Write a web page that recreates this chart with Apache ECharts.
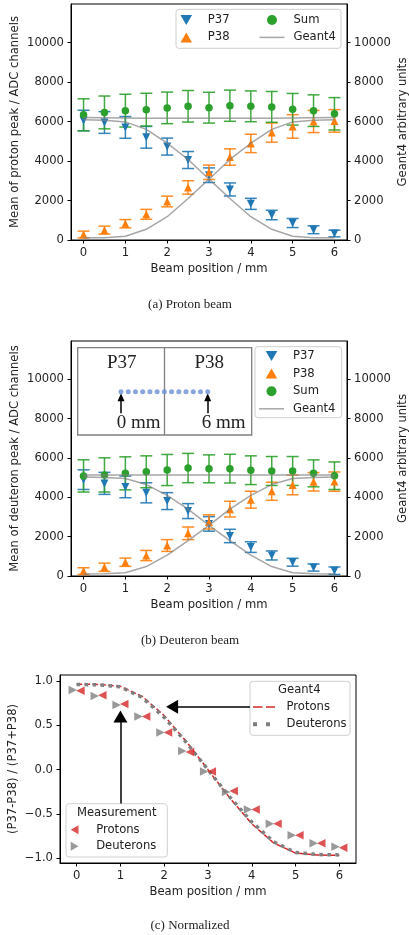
<!DOCTYPE html>
<html>
<head>
<meta charset="utf-8">
<script src="https://cdn.jsdelivr.net/npm/echarts@6/dist/echarts.min.js"></script>
<style>
  html, body { margin: 0; padding: 0; background: #fff; }
  #chart { width: 409px; height: 935px; }
</style>
</head>
<body>
<div id="chart"></div>
<script>
// Beam positions (mm) and axis ticks
const positions = [0, 0.5, 1, 1.5, 2, 2.5, 3, 3.5, 4, 4.5, 5, 5.5, 6];
const xTicks = [0, 1, 2, 3, 4, 5, 6];
const adcTicks = [0, 2000, 4000, 6000, 8000, 10000];
const normTicks = [-1, -0.5, 0, 0.5, 1];

// (a) Proton beam: mean peak (ADC channels) with uncertainties
const protonP37 = [6050, 5950, 5700, 5200, 4730, 4050, 3280, 2560, 1830, 1265, 860, 520, 330];
const protonP37Err = [520, 550, 550, 550, 430, 430, 370, 330, 280, 240, 230, 200, 170];
const protonP38 = [280, 500, 825, 1300, 1950, 2660, 3430, 4200, 4890, 5440, 5750, 6000, 6030];
const protonP38Err = [170, 200, 210, 250, 270, 340, 365, 415, 465, 485, 595, 560, 570];
const protonSum = [6340, 6460, 6550, 6600, 6690, 6770, 6700, 6800, 6770, 6740, 6620, 6550, 6390];
const protonSumErr = [810, 830, 830, 830, 800, 800, 780, 790, 780, 780, 800, 800, 820];
// Geant4 simulation, proton beam (arbitrary units)
const protonG4P37 = [6090, 6060, 5980, 5600, 4900, 4080, 3080, 2100, 1180, 540, 190, 120, 110];
const protonG4P38 = [110, 120, 190, 540, 1180, 2100, 3080, 4080, 4900, 5600, 5980, 6060, 6090];
const protonG4Sum = [6200, 6190, 6180, 6170, 6160, 6160, 6160, 6160, 6160, 6170, 6180, 6190, 6200];

// (b) Deuteron beam
const deuteronP37 = [4900, 4710, 4530, 4230, 3810, 3300, 2650, 2035, 1470, 1045, 700, 430, 270];
const deuteronP37Err = [500, 560, 550, 510, 430, 380, 370, 340, 270, 230, 200, 180, 190];
const deuteronP38 = [250, 444, 700, 1040, 1550, 2170, 2750, 3400, 3880, 4310, 4630, 4790, 4800];
const deuteronP38Err = [170, 210, 210, 260, 300, 320, 360, 400, 430, 460, 500, 470, 490];
const deuteronSum = [5090, 5140, 5220, 5300, 5390, 5490, 5450, 5460, 5380, 5340, 5340, 5220, 5100];
const deuteronSumErr = [820, 870, 840, 810, 790, 745, 710, 730, 730, 735, 735, 685, 700];
const deuteronG4P37 = [5030, 5010, 4960, 4650, 4100, 3400, 2570, 1800, 1060, 480, 170, 110, 100];
const deuteronG4P38 = [100, 110, 170, 480, 1060, 1800, 2570, 3400, 4100, 4650, 4960, 5010, 5030];
const deuteronG4Sum = [5140, 5135, 5130, 5130, 5130, 5130, 5130, 5130, 5130, 5130, 5130, 5135, 5140];

// (c) Normalized asymmetry (P37-P38)/(P37+P38)
const normProtons = [0.89, 0.84, 0.74, 0.60, 0.42, 0.20, -0.02, -0.24, -0.45, -0.61, -0.74, -0.83, -0.88];
const normDeuterons = [0.90, 0.83, 0.73, 0.60, 0.42, 0.21, -0.02, -0.25, -0.45, -0.61, -0.74, -0.83, -0.87];
const g4NormProtons = [0.965, 0.962, 0.94, 0.826, 0.61, 0.32, 0.0, -0.32, -0.61, -0.826, -0.94, -0.962, -0.965];
const g4NormDeuterons = [0.961, 0.957, 0.934, 0.813, 0.59, 0.31, 0.0, -0.31, -0.59, -0.813, -0.934, -0.957, -0.961];

const FONT = 'DejaVu Sans';
const SERIF = '"Liberation Serif", "DejaVu Serif", serif';
const FS = 11.6;
const TXT = '#222';
const BLUE = '#1f77b4', ORANGE = '#ff7f0e', GREEN = '#2ca02c', RED = '#d62728', GREY = '#7f7f7f';
const G4LINE = 'rgba(128,128,128,0.7)';

const ICON_DOWN = 'path://M0,0L10,0L5,8.66Z';
const ICON_UP = 'path://M5,0L10,8.66L0,8.66Z';
const ICON_LEFT = 'path://M0,5L8.66,0L8.66,10Z';
const ICON_RIGHT = 'path://M0,0L8.66,5L0,10Z';
const ICON_LINE = 'path://M0,0H25V1.5H0Z';
const ICON_DASH = 'path://M0,0H9.5V1.6H0Z M13,0H22V1.6H13Z';
const ICON_DOTS = 'path://M0,0H4V4H0Z M13,0H17V4H13Z M21.9,1.95H22V2.05H21.9Z';

const zip = (xs, ys) => xs.map((x, i) => [x, ys[i]]);
const plainFmt = v => String(v);
const decimalFmt = v => (v < 0 ? '\u2212' : '') + Math.abs(v).toFixed(1);

function beamAxis(gridIndex, min, max) {
  return {
    type: 'value', gridIndex, min, max,
    name: 'Beam position / mm', nameLocation: 'middle', nameGap: 23, nameMoveOverlap: false,
    nameTextStyle: { fontFamily: FONT, fontSize: FS, color: TXT },
    axisLine: { show: true, onZero: false, lineStyle: { color: '#000', width: 1 } },
    axisTick: { show: true, inside: false, length: 3.5, customValues: xTicks, lineStyle: { color: '#000', width: 1 } },
    axisLabel: { customValues: xTicks, margin: 7, fontFamily: FONT, fontSize: FS, color: TXT, formatter: plainFmt },
    splitLine: { show: false }
  };
}

function valueAxis(gridIndex, position, min, max, ticks, name, nameGap, fmt) {
  return {
    type: 'value', gridIndex, position, min, max,
    name, nameLocation: 'middle', nameGap, nameRotate: 90, nameMoveOverlap: false,
    nameTextStyle: { fontFamily: FONT, fontSize: FS, color: TXT },
    axisLine: { show: true, onZero: false, lineStyle: { color: '#000', width: 1 } },
    axisTick: { show: true, inside: false, length: 3.5, customValues: ticks, lineStyle: { color: '#000', width: 1 } },
    axisLabel: { customValues: ticks, margin: 7, fontFamily: FONT, fontSize: FS, color: TXT, formatter: fmt },
    splitLine: { show: false }
  };
}

function errorBars(xs, ys, errs, color, xi, yi) {
  return {
    type: 'custom', xAxisIndex: xi, yAxisIndex: yi, silent: true, z: 2,
    data: xs.map((x, i) => [x, ys[i], errs[i]]),
    encode: { x: 0, y: 1 },
    renderItem(params, api) {
      const x = api.value(0), y = api.value(1), e = api.value(2);
      const hi = api.coord([x, y + e]);
      const lo = api.coord([x, y - e]);
      const hw = 6;
      const style = { stroke: color, lineWidth: 1.5, opacity: 0.9 };
      return {
        type: 'group',
        children: [
          { type: 'line', shape: { x1: hi[0], y1: hi[1], x2: lo[0], y2: lo[1] }, style },
          { type: 'line', shape: { x1: hi[0] - hw, y1: hi[1], x2: hi[0] + hw, y2: hi[1] }, style },
          { type: 'line', shape: { x1: lo[0] - hw, y1: lo[1], x2: lo[0] + hw, y2: lo[1] }, style }
        ]
      };
    }
  };
}

function markers(name, ys, color, symbol, rotate, size, xi, yi) {
  return {
    type: 'scatter', name, xAxisIndex: xi, yAxisIndex: yi, z: 3,
    data: zip(positions, ys), symbol, symbolRotate: rotate, symbolSize: size,
    itemStyle: { color, opacity: 1 }, silent: true
  };
}

function g4Line(ys, xi, yi) {
  return {
    type: 'line', name: 'Geant4', xAxisIndex: xi, yAxisIndex: yi, z: 4,
    data: zip(positions, ys), symbol: 'none', showSymbol: false, silent: true,
    lineStyle: { color: G4LINE, width: 1.5 }, itemStyle: { color: G4LINE }
  };
}

function panelSeries(p37, p37e, p38, p38e, sum, sume, g37, g38, gsum, xi, yl, yr) {
  return [
    errorBars(positions, p37, p37e, BLUE, xi, yl),
    errorBars(positions, p38, p38e, ORANGE, xi, yl),
    errorBars(positions, sum, sume, GREEN, xi, yl),
    markers('P37', p37, BLUE, 'triangle', 180, 8, xi, yl),
    markers('P38', p38, ORANGE, 'triangle', 0, 8, xi, yl),
    markers('Sum', sum, GREEN, 'circle', 0, 7.5, xi, yl),
    g4Line(g37, xi, yr),
    g4Line(g38, xi, yr),
    g4Line(gsum, xi, yr)
  ];
}

const legendLabels = {
  'G4 Protons': 'Protons', 'G4 Deuterons': 'Deuterons',
  'Meas Protons': 'Protons', 'Meas Deuterons': 'Deuterons'
};

function legend(items, left, top, gap, pad, width, height) {
  return {
    orient: 'vertical', left, top, padding: 0, itemGap: gap,
    itemWidth: width, itemHeight: height, selectedMode: false,
    data: items,
    formatter: n => legendLabels[n] || n,
    textStyle: { fontFamily: FONT, fontSize: FS, color: TXT, lineHeight: 14, padding: [0, 0, 0, pad] }
  };
}

function box(x, y, w, h) {
  return {
    type: 'rect', z: 3, silent: true,
    shape: { x, y, width: w, height: h, r: 3 },
    style: { fill: 'rgba(255,255,255,0.8)', stroke: '#cfcfcf', lineWidth: 1 }
  };
}

function label(text, x, y, font, align) {
  return {
    type: 'text', z: 5, silent: true, x, y,
    style: { text, font, fill: TXT, align: align || 'center', verticalAlign: 'middle' }
  };
}

const sansFont = FS + 'px "' + FONT + '"';
const serifCaption = '13px ' + SERIF;
const serifInset = '19px ' + SERIF;

// fixed plot rectangles; labels and names may sit outside them
const gridBase = { show: true, borderColor: '#000', borderWidth: 1, containLabel: false, outerBoundsMode: 'none' };

const option = {
  animation: false,
  grid: [
    Object.assign({ left: 71, top: 4, width: 276, height: 236 }, gridBase),
    Object.assign({ left: 71, top: 341, width: 276, height: 235 }, gridBase),
    Object.assign({ left: 60, top: 675, width: 296, height: 188 }, gridBase),
    { left: 121, top: 371.7, width: 86.7, height: 50, show: false, outerBoundsMode: 'none' }
  ],
  xAxis: [
    beamAxis(0, -0.3, 6.3),
    beamAxis(1, -0.3, 6.3),
    beamAxis(2, -0.38, 6.38),
    { type: 'value', gridIndex: 3, min: 0, max: 6, show: false }
  ],
  yAxis: [
    valueAxis(0, 'left', 0, 11950, adcTicks, 'Mean of proton peak / ADC channels', 50, plainFmt),
    valueAxis(0, 'right', 0, 11950, adcTicks, 'Geant4 arbitrary units', 50, plainFmt),
    valueAxis(1, 'left', 0, 11950, adcTicks, 'Mean of deuteron peak / ADC channels', 50, plainFmt),
    valueAxis(1, 'right', 0, 11950, adcTicks, 'Geant4 arbitrary units', 50, plainFmt),
    valueAxis(2, 'left', -1.052, 1.068, normTicks, '(P37-P38) / (P37+P38)', 41, decimalFmt),
    { type: 'value', gridIndex: 3, min: -3, max: 2, show: false }
  ],
  legend: [
    legend([{ name: 'P37', icon: ICON_DOWN }, { name: 'P38', icon: ICON_UP }], 180.5, 13, 3.4, 4, 25, 10),
    legend([{ name: 'Sum', icon: 'circle' }, { name: 'Geant4', icon: ICON_LINE }], 259.5, 13, 3.4, 4, 25, 10),
    legend([{ name: 'P37', icon: ICON_DOWN }, { name: 'P38', icon: ICON_UP },
            { name: 'Sum', icon: 'circle' }, { name: 'Geant4', icon: ICON_LINE }], 259, 349, 3.6, 4, 25, 10),
    legend([{ name: 'G4 Protons', icon: ICON_DASH }, { name: 'G4 Deuterons', icon: ICON_DOTS }], 253, 700, 3.3, 6.5, 22, 9),
    legend([{ name: 'Meas Protons', icon: ICON_LEFT }, { name: 'Meas Deuterons', icon: ICON_RIGHT }], 70.7, 822.7, 2.6, 5.6, 22, 9)
  ],
  series: [
    ...panelSeries(protonP37, protonP37Err, protonP38, protonP38Err, protonSum, protonSumErr,
                   protonG4P37, protonG4P38, protonG4Sum, 0, 0, 1),
    ...panelSeries(deuteronP37, deuteronP37Err, deuteronP38, deuteronP38Err, deuteronSum, deuteronSumErr,
                   deuteronG4P37, deuteronG4P38, deuteronG4Sum, 1, 2, 3),
    // detector schematic: one dot per scanned beam position
    {
      type: 'scatter', xAxisIndex: 3, yAxisIndex: 5, silent: true, z: 6,
      data: positions.map(p => [p, 0]), symbol: 'circle', symbolSize: 5,
      itemStyle: { color: '#6a8fd4' },
      markLine: {
        silent: true, symbol: ['none', 'triangle'], symbolSize: [7, 8],
        label: { show: false }, emphasis: { disabled: true },
        lineStyle: { color: '#000', width: 1.5, type: 'solid' },
        data: [
          [{ coord: [0, -2.15] }, { coord: [0, -0.55] }],
          [{ coord: [6, -2.15] }, { coord: [6, -0.55] }]
        ]
      }
    },
    // normalized panel
    {
      type: 'line', name: 'G4 Protons', xAxisIndex: 2, yAxisIndex: 4, z: 3, silent: true,
      data: zip(positions, g4NormProtons), symbol: 'none', showSymbol: false,
      lineStyle: { color: RED, width: 1.5, type: [5.5, 2.4] }, itemStyle: { color: RED }
    },
    {
      type: 'line', name: 'G4 Deuterons', xAxisIndex: 2, yAxisIndex: 4, z: 4, silent: true,
      data: zip(positions, g4NormDeuterons), symbol: 'none', showSymbol: false,
      lineStyle: { color: GREY, width: 3.5, type: [3.5, 4.5] }, itemStyle: { color: GREY }
    },
    {
      type: 'scatter', name: 'Meas Protons', xAxisIndex: 2, yAxisIndex: 4, z: 5, silent: true,
      data: zip(positions, normProtons), symbol: 'triangle', symbolRotate: 90, symbolSize: 8.5,
      symbolOffset: [3.8, 0], itemStyle: { color: RED },
      markLine: {
        silent: true, symbol: ['none', 'triangle'], symbolSize: [14, 12],
        label: { show: false }, emphasis: { disabled: true },
        lineStyle: { color: '#000', width: 1.5, type: 'solid' },
        data: [
          [{ coord: [3.96, 0.71] }, { coord: [2.18, 0.71] }],
          [{ coord: [1, -0.381] }, { coord: [1, 0.60] }]
        ]
      }
    },
    {
      type: 'scatter', name: 'Meas Deuterons', xAxisIndex: 2, yAxisIndex: 4, z: 6, silent: true,
      data: zip(positions, normDeuterons), symbol: 'triangle', symbolRotate: -90, symbolSize: 8.5,
      symbolOffset: [-3.8, 0], itemStyle: { color: GREY }
    }
  ],
  graphic: [
    box(176, 9.3, 165, 39),
    box(255, 346.7, 86.7, 71),
    box(250, 681.3, 100, 54),
    box(66, 803.7, 101.3, 53.3),
    label('Geant4', 299.3, 690.3, sansFont),
    label('Measurement', 116.7, 812.7, sansFont),
    // detector schematic frame
    {
      type: 'rect', z: 3, silent: true,
      shape: { x: 77.7, y: 347.7, width: 174, height: 87.3 },
      style: { fill: 'none', stroke: '#808080', lineWidth: 1.3 }
    },
    {
      type: 'line', z: 3, silent: true,
      shape: { x1: 164.5, y1: 347.7, x2: 164.5, y2: 435 },
      style: { stroke: '#808080', lineWidth: 1.3 }
    },
    label('P37', 121.7, 363.3, serifInset),
    label('P38', 209.3, 363.3, serifInset),
    label('0 mm', 116.7, 422.7, serifInset, 'left'),
    label('6 mm', 201.7, 422.7, serifInset, 'left'),
    // captions
    label('(a) Proton beam', 190, 305, serifCaption),
    label('(b) Deuteron beam', 190, 641, serifCaption),
    label('(c) Normalized', 190, 925.5, serifCaption)
  ]
};

const chart = echarts.init(document.getElementById('chart'), null, { renderer: 'canvas' });
chart.setOption(option);
</script>
</body>
</html>
